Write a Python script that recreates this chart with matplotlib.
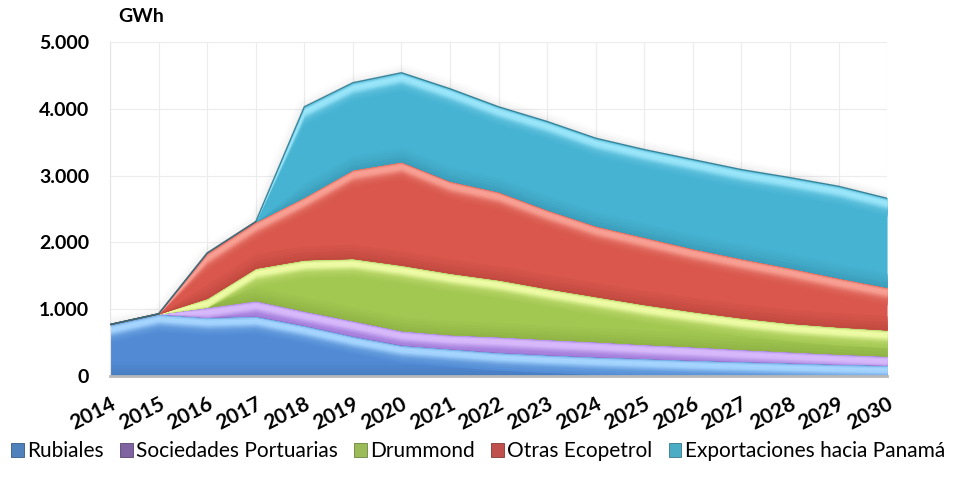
import numpy as np
import matplotlib
matplotlib.use("Agg")
import matplotlib.pyplot as plt
from matplotlib.colors import to_rgb
from matplotlib.patches import Patch

years = list(range(2014, 2031))
rubiales = [770, 930, 880, 900, 760, 600, 465, 410, 355, 320, 290, 265, 240, 220, 200, 180, 165]
sociedades = [0, 0, 150, 230, 215, 230, 215, 210, 235, 230, 225, 210, 200, 180, 165, 150, 135]
drummond = [0, 0, 135, 485, 765, 930, 980, 920, 850, 760, 675, 595, 525, 470, 425, 405, 390]
otras = [0, 0, 675, 695, 940, 1330, 1550, 1380, 1320, 1180, 1060, 1010, 945, 890, 830, 735, 640]
exportaciones = [0, 0, 0, 0, 1350, 1300, 1330, 1380, 1270, 1320, 1310, 1310, 1330, 1330, 1350, 1370, 1330]

series_names = ["Rubiales", "Sociedades Portuarias", "Drummond", "Otras Ecopetrol",
                "Exportaciones hacia Panamá"]
y_ticks = [0, 1000, 2000, 3000, 4000, 5000]
y_tick_labels = ["0", "1.000", "2.000", "3.000", "4.000", "5.000"]

# base, highlight, outline colours for each layer
base_colors = ["#528bd4", "#9d77d8", "#a3c852", "#d9574c", "#47b3d2"]
light_colors = ["#a6d6ff", "#d8bafc", "#eefca6", "#f9a094", "#9ae6fa"]
dark_colors = ["#2f5f9c", "#5e3e94", "#6c8a2c", "#8f2d27", "#24758c"]
legend_colors = ["#4f81bd", "#8064a2", "#9bbb59", "#c0504d", "#4bacc6"]

PX = 5000 / 334.0  # data units per pixel on the y axis


def mix(c1, c2, t):
    a = np.array(to_rgb(c1))
    b = np.array(to_rgb(c2))
    return tuple(a + (b - a) * t)


def shade_layer(ax, x, lower, upper, base, light, dark, z):
    ax.fill_between(x, lower, upper, color=base, lw=0, zorder=z)
    # darker toward the bottom edge of the band
    bottom_profile = [(14, 0.06), (11, 0.12), (8, 0.18), (5, 0.25), (2, 0.32)]
    for depth, t in bottom_profile:
        hi = np.minimum(lower + depth * PX, upper)
        ax.fill_between(x, lower, hi, color=mix(base, dark, t), lw=0, zorder=z + 0.1)
    # bright ridge just under the top edge, drawn widest first
    ridge = [(18, 0.04), (16, 0.1), (14, 0.18), (12, 0.3), (11, 0.42), (10, 0.55),
             (9, 0.7), (8, 0.85), (7, 0.95), (5, 1.0), (3, 0.85), (1.5, 0.45)]
    for depth, t in ridge:
        lo = np.maximum(upper - depth * PX, lower)
        ax.fill_between(x, lo, upper, color=mix(base, light, t), lw=0, zorder=z + 0.2)
    ax.plot(x, upper, color=dark, lw=1.0, alpha=0.85, zorder=z + 0.3,
            solid_joinstyle="round")


fig = plt.figure(figsize=(9.56, 4.8), dpi=100)
ax = fig.add_axes([0.1151, 0.2167, 0.8128, 0.6958])

x = np.arange(len(years))
stack = [np.array(s, dtype=float) for s in [rubiales, sociedades, drummond, otras, exportaciones]]
cum = np.cumsum(stack, axis=0)

# soft shadow around the stack
for lw, a in [(14, 0.03), (10, 0.04), (6, 0.06), (3, 0.08)]:
    ax.plot(x + 0.03, cum[-1] - 25, color="gray", lw=lw, alpha=a, zorder=1,
            solid_joinstyle="round")

for i in range(len(stack)):
    lower = np.zeros(len(x)) if i == 0 else cum[i - 1]
    shade_layer(ax, x, lower, cum[i], base_colors[i], light_colors[i], dark_colors[i], 2 + i)

ax.set_xlim(0, len(years) - 1)
ax.set_ylim(0, 5000)
ax.set_yticks(y_ticks)
ax.set_yticklabels(y_tick_labels, fontsize=14, fontweight="bold", family="Lato")
ax.set_xticks(x)
ax.set_xticklabels([str(y) for y in years], fontsize=15, fontweight="bold", family="Lato",
                   rotation=27, ha="right", va="top", rotation_mode="anchor")
ax.tick_params(axis="both", length=0)
ax.tick_params(axis="y", pad=15)
ax.tick_params(axis="x", pad=13)
ax.grid(True, color="#ececec", lw=0.8, zorder=0)
ax.set_axisbelow(True)
for side in ["top", "right"]:
    ax.spines[side].set_visible(False)
ax.spines["left"].set_color("#e4e4e4")
ax.spines["bottom"].set_color("#b8b8b8")
ax.spines["bottom"].set_linewidth(2.0)

fig.text(0.1234, 0.965, "GWh", fontsize=14, fontweight="bold", family="Lato",
         ha="left", va="center")

handles = [Patch(facecolor=c, edgecolor=mix(c, "#000000", 0.3), lw=0.6) for c in legend_colors]
fig.legend(handles, series_names, loc="center", bbox_to_anchor=(0.5, 0.06), ncol=5,
           frameon=False, handlelength=0.6, handleheight=0.7,
           handletextpad=0.15, columnspacing=0.8, prop={"family": "Lato", "size": 15})

fig.savefig("out.png", dpi=100)
